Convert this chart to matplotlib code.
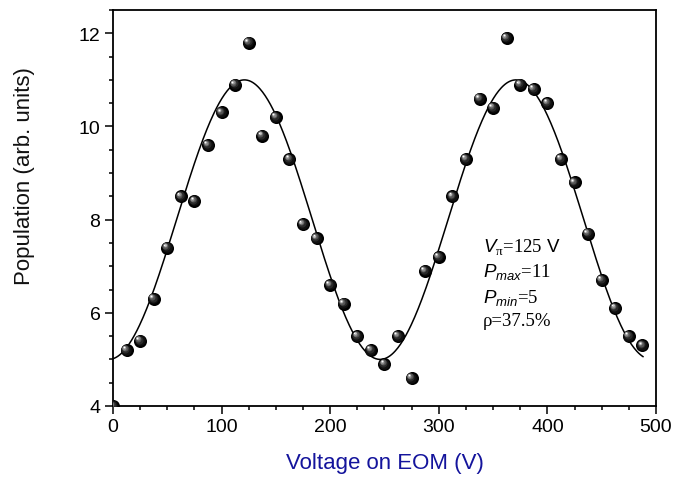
import numpy as np
import matplotlib
matplotlib.use("Agg")
import matplotlib.pyplot as plt
from matplotlib.ticker import MultipleLocator
from matplotlib.transforms import offset_copy

plt.rcParams['font.family'] = ['Liberation Sans', 'DejaVu Sans']
plt.rcParams['mathtext.fontset'] = 'custom'
plt.rcParams['mathtext.rm'] = 'Liberation Serif'
plt.rcParams['mathtext.it'] = 'Liberation Sans:italic'
plt.rcParams['mathtext.sf'] = 'Liberation Sans'

# Measured population vs. EOM voltage
voltage = [0, 12.5, 25, 37.5, 50, 62.5, 75, 87.5, 100, 112.5, 125, 137.5, 150,
           162.5, 175, 187.5, 200, 212.5, 225, 237.5, 250, 262.5, 275, 287.5,
           300, 312.5, 325, 337.5, 350, 362.5, 375, 387.5, 400, 412.5, 425,
           437.5, 450, 462.5, 475, 487.5]
population = [4.0, 5.2, 5.4, 6.3, 7.4, 8.5, 8.4, 9.6, 10.3, 10.9, 11.8, 9.8,
              10.2, 9.3, 7.9, 7.6, 6.6, 6.2, 5.5, 5.2, 4.9, 5.5, 4.6, 6.9,
              7.2, 8.5, 9.3, 10.6, 10.4, 11.9, 10.9, 10.8, 10.5, 9.3, 8.8,
              7.7, 6.7, 6.1, 5.5, 5.3]

# Fit parameters
v_pi = 125.0
p_max = 11.0
p_min = 5.0
v_peak = 121.0
fit_range = (0.0, 488.0)

fig = plt.figure(figsize=(6.75, 4.81), dpi=100)
ax = fig.add_axes([113 / 675, 1 - 407 / 481, (656 - 113) / 675, (407 - 11) / 481])

# Fitted interference curve
v_fit = np.linspace(fit_range[0], fit_range[1], 600)
p_fit = (p_max + p_min) / 2 + (p_max - p_min) / 2 * np.cos(np.pi * (v_fit - v_peak) / v_pi)
ax.plot(v_fit, p_fit, color='black', lw=1.1, zorder=2)

# Shaded sphere markers
D = 9.4
ax.plot(voltage, population, 'o', ms=D, color='black', mec='black', mew=0, zorder=3)
layers = [
    (0.80, 0.04, '#101010'),
    (0.62, 0.09, '#2a2a2a'),
    (0.46, 0.14, '#555555'),
    (0.32, 0.18, '#8a8a8a'),
    (0.20, 0.21, '#c8c8c8'),
    (0.10, 0.22, '#ffffff'),
]
for frac, off, col in layers:
    tr = offset_copy(ax.transData, fig=fig, x=-off * D, y=off * D, units='points')
    ax.plot(voltage, population, 'o', ms=D * frac, color=col, mew=0,
            transform=tr, zorder=4)

ax.set_xlim(0, 500)
ax.set_ylim(4, 12.5)
ax.xaxis.set_major_locator(MultipleLocator(100))
ax.xaxis.set_minor_locator(MultipleLocator(25))
ax.yaxis.set_major_locator(MultipleLocator(2))
ax.yaxis.set_minor_locator(MultipleLocator(0.5))
ax.tick_params(which='both', direction='out', top=False, right=False, width=1.1)
ax.tick_params(which='major', length=6, labelsize=14, pad=3)
ax.tick_params(which='minor', length=3.2)
for s in ax.spines.values():
    s.set_linewidth(1.3)

ax.set_xlabel('Voltage on EOM (V)', fontsize=16, color='#14149c', labelpad=12)
fig.text(25 / 675, 1 - 176 / 481, 'Population (arb. units)', fontsize=16,
         rotation=90, ha='center', va='center', color='#111111')

# Fit parameter annotation
ann_x = 483
serif = ['Liberation Serif', 'DejaVu Serif']
ann_lines = [
    (247, r'$\mathit{V}_{\mathrm{\pi}}$=125 $\mathsf{V}$'),
    (272, r'$\mathit{P}_{\mathit{max}}$=11'),
    (298, r'$\mathit{P}_{\mathit{min}}$=5'),
    (322, 'ρ=37.5%'),
]
for ypx, txt in ann_lines:
    fig.text(ann_x / 675, 1 - ypx / 481, txt, fontsize=13.5, ha='left',
             va='center', family=serif)

fig.savefig('out.png', dpi=100)
